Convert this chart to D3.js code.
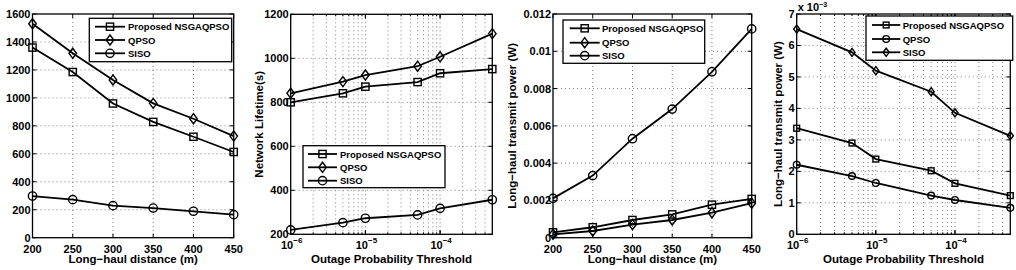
<!DOCTYPE html>
<html><head><meta charset="utf-8">
<script src="https://cdn.jsdelivr.net/npm/d3@7"></script>
<style>
body{margin:0;background:#fff;}
svg{display:block;}
text{font-family:"Liberation Sans",Arial,sans-serif;font-weight:bold;fill:#000;}
</style></head>
<body>
<svg id="c" width="1016" height="270"></svg>
<script>
// ---------- data ----------
const distance = [200, 250, 300, 350, 400, 450];
const outage = [1e-6, 5e-6, 1e-5, 5e-5, 1e-4, 5e-4];

const lifeDistProposed = [1360, 1185, 960, 828, 722, 613];
const lifeDistQPSO     = [1530, 1319, 1128, 961, 851, 727];
const lifeDistSISO     = [298, 272, 229, 212, 189, 165];

const lifeOutProposed = [800, 841, 871, 892, 932, 951];
const lifeOutQPSO     = [841, 894, 924, 964, 1007, 1112];
const lifeOutSISO     = [220, 253, 273, 288, 318, 357];

const powDistProposed = [0.00029, 0.00056, 0.00095, 0.00125, 0.00177, 0.00208];
const powDistQPSO     = [0.00018, 0.00036, 0.0007, 0.00095, 0.00134, 0.00185];
const powDistSISO     = [0.00211, 0.00333, 0.00531, 0.0069, 0.0089, 0.0112];

// values in units of 1e-3 W
const powOutProposed = [3.37, 2.9, 2.39, 2.02, 1.62, 1.23];
const powOutQPSO     = [2.21, 1.85, 1.63, 1.23, 1.09, 0.84];
const powOutSISO     = [6.52, 5.78, 5.2, 4.53, 3.86, 3.13];

const seriesNames = ["Proposed NSGAQPSO", "QPSO", "SISO"];

const distTicks = [200, 250, 300, 350, 400, 450];
const lifeDistTicks = [0, 200, 400, 600, 800, 1000, 1200, 1400, 1600];
const lifeOutTicks = [200, 400, 600, 800, 1000, 1200];
const powDistTicks = [0, 0.002, 0.004, 0.006, 0.008, 0.01, 0.012];
const powDistTickLabels = ["0", "0.002", "0.004", "0.006", "0.008", "0.01", "0.012"];
const powOutTicks = [0, 1, 2, 3, 4, 5, 6, 7];
const outageTicks = [1e-6, 1e-5, 1e-4];
const outageTickExps = ["−6", "−5", "−4"];

// ---------- drawing ----------
const svg = d3.select("#c");

function marker(g, type, x, y, s) {
  if (type === "square") {
    g.append("rect").attr("x", x - s).attr("y", y - s).attr("width", 2 * s).attr("height", 2 * s)
      .attr("fill", "none").attr("stroke", "#000").attr("stroke-width", 1.4);
  } else if (type === "circle") {
    g.append("circle").attr("cx", x).attr("cy", y).attr("r", s * 1.15)
      .attr("fill", "none").attr("stroke", "#000").attr("stroke-width", 1.4);
  } else {
    const a = s * 1.05, b = s * 1.4;
    g.append("path").attr("d", `M${x},${y - b}L${x + a},${y}L${x},${y + b}L${x - a},${y}Z`)
      .attr("fill", "none").attr("stroke", "#000").attr("stroke-width", 1.4);
  }
}

function panel(cfg) {
  const g = svg.append("g");
  const x = cfg.xlog
    ? d3.scaleLog().domain(cfg.xdom).range([cfg.L, cfg.R])
    : d3.scaleLinear().domain(cfg.xdom).range([cfg.L, cfg.R]);
  const y = d3.scaleLinear().domain(cfg.ydom).range([cfg.B, cfg.T]);

  // grid
  let xgrid;
  if (cfg.xlog) {
    xgrid = [];
    for (let e = -6; e <= -4; e++) for (let m = 1; m <= 9; m++) {
      const v = m * Math.pow(10, e);
      if (v > cfg.xdom[0] * 1.0001 && v < cfg.xdom[1] * 0.9999) xgrid.push(v);
    }
  } else {
    xgrid = cfg.xticks.filter(v => v > cfg.xdom[0] && v < cfg.xdom[1]);
  }
  const grid = g.append("g").attr("stroke", "#808080").attr("stroke-width", 1).attr("stroke-dasharray", "1,3");
  xgrid.forEach(v => grid.append("line").attr("x1", x(v)).attr("x2", x(v)).attr("y1", cfg.T).attr("y2", cfg.B));
  cfg.yticks.filter(v => v > cfg.ydom[0] && v < cfg.ydom[1])
    .forEach(v => grid.append("line").attr("x1", cfg.L).attr("x2", cfg.R).attr("y1", y(v)).attr("y2", y(v)));

  // inner ticks
  const tk = g.append("g").attr("stroke", "#000").attr("stroke-width", 1);
  cfg.yticks.forEach(v => {
    tk.append("line").attr("x1", cfg.L).attr("x2", cfg.L + 4).attr("y1", y(v)).attr("y2", y(v));
    tk.append("line").attr("x1", cfg.R).attr("x2", cfg.R - 4).attr("y1", y(v)).attr("y2", y(v));
  });
  (cfg.xlog ? xgrid.concat(cfg.xticks) : cfg.xticks).forEach(v => {
    const len = cfg.xlog && !cfg.xticks.includes(v) ? 2 : 4;
    tk.append("line").attr("x1", x(v)).attr("x2", x(v)).attr("y1", cfg.B).attr("y2", cfg.B - len);
    tk.append("line").attr("x1", x(v)).attr("x2", x(v)).attr("y1", cfg.T).attr("y2", cfg.T + len);
  });

  // frame
  g.append("rect").attr("x", cfg.L).attr("y", cfg.T).attr("width", cfg.R - cfg.L).attr("height", cfg.B - cfg.T)
    .attr("fill", "none").attr("stroke", "#000").attr("stroke-width", 1.3);

  // y tick labels
  cfg.yticks.forEach((v, i) => {
    g.append("text").attr("x", cfg.L - 2).attr("y", y(v) + 4).attr("text-anchor", "end")
      .attr("font-size", 11).text(cfg.ylabels ? cfg.ylabels[i] : String(v));
  });
  // x tick labels
  cfg.xticks.forEach((v, i) => {
    if (cfg.xlog) {
      const t = g.append("text").attr("x", x(v) + 1).attr("y", cfg.B + 15).attr("text-anchor", "middle").attr("font-size", 11);
      t.append("tspan").text("10");
      t.append("tspan").attr("dy", -6).attr("font-size", 8).text(outageTickExps[i]);
    } else {
      g.append("text").attr("x", x(v)).attr("y", cfg.B + 15).attr("text-anchor", "middle")
        .attr("font-size", 11).text(String(v));
    }
  });

  // axis titles
  g.append("text").attr("x", (cfg.L + cfg.R) / 2).attr("y", 263).attr("text-anchor", "middle")
    .attr("font-size", 11.5).text(cfg.xtitle);
  if (cfg.ytitle) {
    g.append("text").attr("transform", `translate(${cfg.ytx},${(cfg.T + cfg.B) / 2}) rotate(-90)`)
      .attr("text-anchor", "middle").attr("font-size", 11.5).text(cfg.ytitle);
  }

  // series
  const line = d3.line().x(d => x(d[0])).y(d => y(d[1]));
  cfg.series.forEach(s => {
    const pts = cfg.xvals.map((xv, i) => [xv, s.values[i]]);
    g.append("path").attr("d", line(pts)).attr("fill", "none").attr("stroke", "#000").attr("stroke-width", 1.8);
    pts.forEach(p => marker(g, s.marker, x(p[0]), y(p[1]), cfg.ms));
  });

  // legend
  const lg = cfg.legend;
  g.append("rect").attr("x", lg.x0).attr("y", lg.y0).attr("width", lg.x1 - lg.x0).attr("height", lg.y1 - lg.y0)
    .attr("fill", "#fff").attr("stroke", "#000").attr("stroke-width", 1.3);
  cfg.series.forEach((s, i) => {
    const yy = lg.rows[i];
    g.append("line").attr("x1", lg.lx0).attr("x2", lg.lx1).attr("y1", yy).attr("y2", yy)
      .attr("stroke", "#000").attr("stroke-width", 1.8);
    marker(g, s.marker, (lg.lx0 + lg.lx1) / 2, yy, cfg.ms);
    g.append("text").attr("x", lg.tx).attr("y", yy + 3.5).attr("font-size", 9.5).text(s.name);
  });

  if (cfg.mult) {
    const t = g.append("text").attr("x", cfg.L + 1).attr("y", 11).attr("font-size", 11);
    t.append("tspan").text("x 10");
    t.append("tspan").attr("dy", -4.5).attr("font-size", 7).text("−3");
  }
}

panel({
  L: 32.5, R: 233.7, T: 14, B: 237.7,
  xdom: [200, 450], xticks: distTicks, xvals: distance,
  ydom: [0, 1600], yticks: lifeDistTicks,
  xtitle: "Long−haul distance (m)", ms: 3.6,
  series: [
    { name: seriesNames[0], values: lifeDistProposed, marker: "square" },
    { name: seriesNames[1], values: lifeDistQPSO, marker: "diamond" },
    { name: seriesNames[2], values: lifeDistSISO, marker: "circle" }
  ],
  legend: { x0: 89.3, x1: 231.7, y0: 18.3, y1: 61.7, rows: [26.7, 40, 53.3], lx0: 95, lx1: 125, tx: 128 }
});

panel({
  L: 290.7, R: 492.3, T: 14.3, B: 234.3, xlog: true,
  xdom: [1e-6, 5e-4], xticks: outageTicks, xvals: outage,
  ydom: [200, 1200], yticks: lifeOutTicks,
  xtitle: "Outage Probability Threshold", ytitle: "Network Lifetime(s)", ytx: 263, ms: 3.6,
  series: [
    { name: seriesNames[0], values: lifeOutProposed, marker: "square" },
    { name: seriesNames[1], values: lifeOutQPSO, marker: "diamond" },
    { name: seriesNames[2], values: lifeOutSISO, marker: "circle" }
  ],
  legend: { x0: 303, x1: 445, y0: 145.7, y1: 187.7, rows: [154, 167.3, 180.7], lx0: 308, lx1: 337, tx: 340 }
});

panel({
  L: 553, R: 751.7, T: 14, B: 237.7,
  xdom: [200, 450], xticks: distTicks, xvals: distance,
  ydom: [0, 0.012], yticks: powDistTicks, ylabels: powDistTickLabels,
  xtitle: "Long−haul distance (m)", ytitle: "Long−haul transmit power (W)", ytx: 516, ms: 3.6,
  series: [
    { name: seriesNames[0], values: powDistProposed, marker: "square" },
    { name: seriesNames[1], values: powDistQPSO, marker: "diamond" },
    { name: seriesNames[2], values: powDistSISO, marker: "circle" }
  ],
  legend: { x0: 563, x1: 704.7, y0: 20, y1: 63.3, rows: [28.3, 42.7, 55.7], lx0: 569.7, lx1: 599.7, tx: 602 }
});

panel({
  L: 796.7, R: 1010.3, T: 14, B: 234.3, xlog: true,
  xdom: [1e-6, 5e-4], xticks: outageTicks, xvals: outage,
  ydom: [0, 7], yticks: powOutTicks,
  xtitle: "Outage Probability Threshold", ytitle: "Long−haul transmit power (W)", ytx: 782, ms: 2.9, mult: true,
  series: [
    { name: seriesNames[0], values: powOutProposed, marker: "square" },
    { name: seriesNames[1], values: powOutQPSO, marker: "circle" },
    { name: seriesNames[2], values: powOutSISO, marker: "diamond" }
  ],
  legend: { x0: 866, x1: 1012.7, y0: 16, y1: 60.3, rows: [25, 39, 52.3], lx0: 872, lx1: 900.3, tx: 902.7 }
});
</script>
</body></html>
